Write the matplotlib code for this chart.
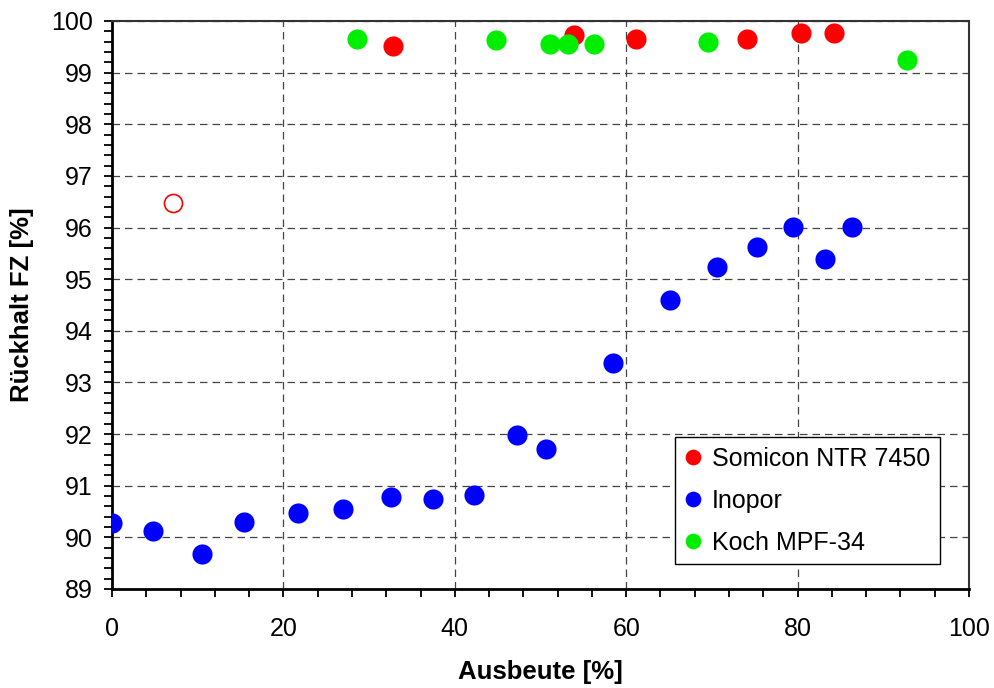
import matplotlib
matplotlib.use("Agg")
import matplotlib.pyplot as plt
from matplotlib.ticker import MultipleLocator

plt.rcParams['font.family'] = ['Liberation Sans', 'DejaVu Sans']

# Somicon NTR 7450
somicon_x = [32.8, 53.9, 61.2, 74.1, 80.4, 84.2]
somicon_y = [99.52, 99.73, 99.66, 99.66, 99.77, 99.77]
# Somicon outlier (open marker)
somicon_out_x = [7.15]
somicon_out_y = [96.48]

# Inopor
inopor_x = [0.0, 4.8, 10.5, 15.4, 21.7, 26.9, 32.5, 37.4, 42.2, 47.3, 50.6,
            58.5, 65.1, 70.6, 75.3, 79.5, 83.2, 86.3]
inopor_y = [90.27, 90.12, 89.68, 90.30, 90.47, 90.54, 90.78, 90.74, 90.82,
            91.98, 91.71, 93.38, 94.60, 95.24, 95.62, 96.01, 95.39, 96.01]

# Koch MPF-34
koch_x = [28.55, 44.8, 51.1, 53.2, 56.2, 69.6, 92.8]
koch_y = [99.66, 99.63, 99.55, 99.55, 99.55, 99.59, 99.24]

x_ticks = [0, 20, 40, 60, 80, 100]
y_ticks = list(range(89, 101))

W, H = 994, 688
fig = plt.figure(figsize=(W / 100, H / 100), dpi=100)
ax = fig.add_axes([112 / W, (H - 589) / H, 857 / W, 568 / H])

ms = 14.5
ax.plot(somicon_x, somicon_y, 'o', color='#ff0000', markersize=ms,
        markeredgewidth=0, label='Somicon NTR 7450', zorder=3)
ax.plot(inopor_x, inopor_y, 'o', color='#0000ff', markersize=ms,
        markeredgewidth=0, label='Inopor', zorder=3)
ax.plot(koch_x, koch_y, 'o', color='#00ee00', markersize=ms,
        markeredgewidth=0, label='Koch MPF-34', zorder=3)
ax.plot(somicon_out_x, somicon_out_y, 'o', markerfacecolor='none',
        markeredgecolor='#ff0000', markersize=13, markeredgewidth=1.2, zorder=3)

ax.set_xlim(0, 100)
ax.set_ylim(89, 100)
ax.set_xticks(x_ticks)
ax.set_yticks(y_ticks)
ax.xaxis.set_minor_locator(MultipleLocator(4))
ax.yaxis.set_minor_locator(MultipleLocator(0.2))

ax.tick_params(axis='both', which='both', direction='out', length=6,
               width=1.3, colors='black', labelsize=18)
ax.tick_params(axis='x', which='both', top=False, pad=14)
ax.tick_params(axis='y', which='both', right=False, pad=8)

ax.grid(True, which='major', linestyle=(0, (6, 4)), color='#444444',
        linewidth=0.9)
ax.set_axisbelow(True)

for side in ['left', 'bottom']:
    ax.spines[side].set_linewidth(2)
    ax.spines[side].set_color('black')
for side in ['top', 'right']:
    ax.spines[side].set_linewidth(1.5)
    ax.spines[side].set_color('#333333')

ax.set_xlabel('Ausbeute [%]', fontsize=18.5, fontweight='bold', labelpad=14)
ax.set_ylabel('Rückhalt FZ [%]', fontsize=18.5, fontweight='bold', labelpad=12)

leg = ax.legend(loc='lower left', bbox_to_anchor=(0.657, 0.044),
                borderaxespad=0, fontsize=18, frameon=True, fancybox=False,
                edgecolor='black', framealpha=1, markerscale=0.78,
                handlelength=0.7, handletextpad=0.4, labelspacing=0.72,
                borderpad=0.38)
leg.get_frame().set_linewidth(1)

fig.savefig('out.png', dpi=100)
